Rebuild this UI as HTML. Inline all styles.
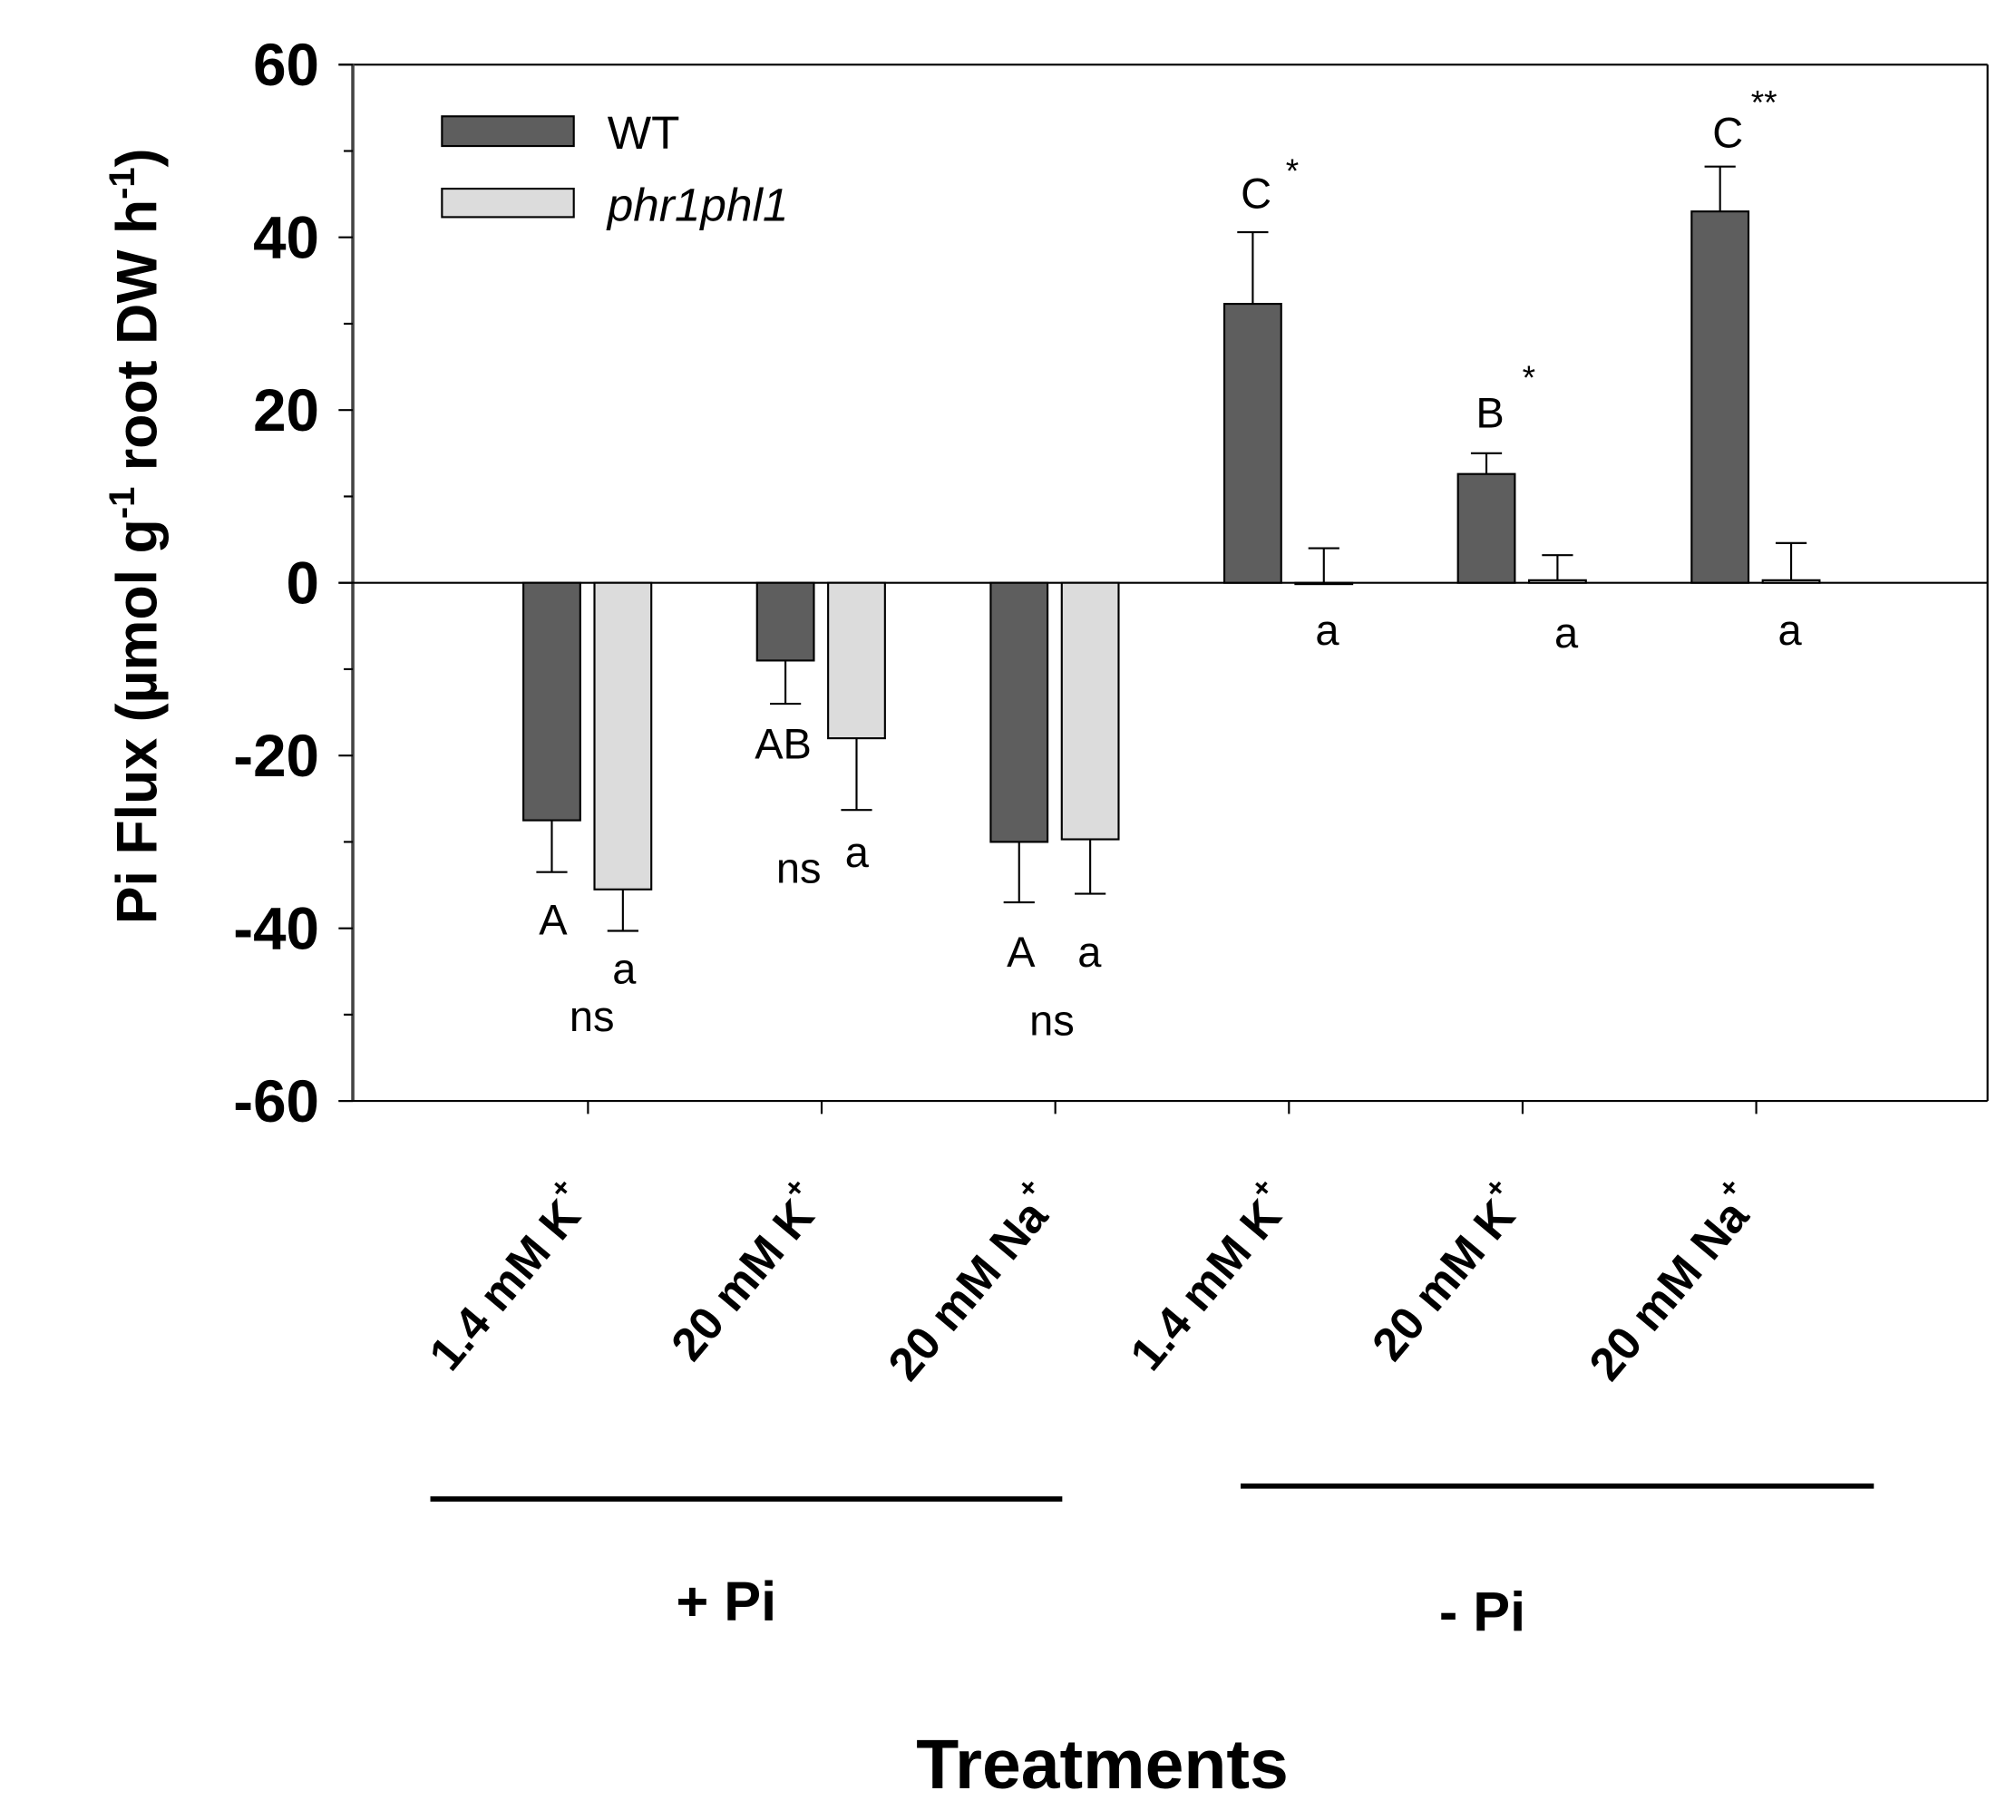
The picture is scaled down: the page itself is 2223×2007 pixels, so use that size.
<!DOCTYPE html>
<html><head><meta charset="utf-8"><style>
html,body{margin:0;padding:0;background:#fff;}
svg{display:block;font-family:"Liberation Sans",Arial,sans-serif;}
</style></head><body>
<svg id="chart" width="2223" height="2007" viewBox="0 0 1560 1408.4" xmlns="http://www.w3.org/2000/svg">
<g id="root"></g>
</svg>
<script>
const categories = ["1.4 mM K", "20 mM K", "20 mM Na", "1.4 mM K", "20 mM K", "20 mM Na"];
const wtValues = [-27.5, -9, -30, 32.3, 12.6, 43];
const wtErrors = [6, 5, 7, 8.3, 2.4, 5.2];
const mutValues = [-35.5, -18, -29.7, 0, 0.3, 0.3];
const mutErrors = [4.8, 8.3, 6.3, 4, 2.9, 4.3];
const yTicks = [-60, -40, -20, 0, 20, 40, 60];
const wtLetters = ["A", "AB", "A", "C", "B", "C"];
const mutLetters = ["a", "a", "a", "a", "a", "a"];
const sigMarks = ["ns", "ns", "ns", "*", "*", "**"];

const NS = "http://www.w3.org/2000/svg";
const root = document.getElementById('root');
const X0 = 273, X1 = 1538, Ytop = 50, Ybot = 852;
function y(v){ return 451 - v * (401/60); }
function xc(i){ return 455 + i * 180.8; }
function el(tag, attrs, parent, text){
  const e = document.createElementNS(NS, tag);
  for (const k in attrs) e.setAttribute(k, attrs[k]);
  if (text !== undefined) e.textContent = text;
  (parent || root).appendChild(e);
  return e;
}
let e;
e = el('line',{x1:262,y1:Ytop,x2:X1,y2:Ytop,stroke:'#000','stroke-width':1.5});
 
e = el('line',{x1:X1,y1:Ytop,x2:X1,y2:Ybot,stroke:'#000','stroke-width':1.5});
 
e = el('line',{x1:X0,y1:Ytop,x2:X0,y2:Ybot,stroke:'#444','stroke-width':2.5});
 
e = el('line',{x1:262,y1:Ybot,x2:X1,y2:Ybot,stroke:'#000','stroke-width':1.5});
 
e = el('line',{x1:262,y1:y(0),x2:X1,y2:y(0),stroke:'#000','stroke-width':1.5});
 
yTicks.forEach(v=>{
  e = el('line',{x1:262,y1:y(v),x2:X0,y2:y(v),stroke:'#000','stroke-width':1.5});
   
  e = el('text',{x:247,y:y(v)+16,'text-anchor':'end','font-size':46,'font-weight':'bold'},root,String(v));
   
  if (v < 60){
    e = el('line',{x1:266,y1:y(v+10),x2:X0,y2:y(v+10),stroke:'#000','stroke-width':1.5});
     
  }
});
e = el('text',{transform:'translate(121,415) rotate(-90)','text-anchor':'middle','font-size':44,'font-weight':'bold'});
 
e.innerHTML = 'Pi Flux (µmol g<tspan dy="-17" font-size="28">-1</tspan><tspan dy="17"> root DW h</tspan><tspan dy="-17" font-size="28">-1</tspan><tspan dy="17">)</tspan>';
const bw = 44;
function bar(i, v, err, isWT){
  const left = isWT ? xc(i) - 6 - bw : xc(i) + 5;
  const top = Math.min(y(v), y(0)), h = Math.abs(y(v) - y(0));
  const r = el('rect',{x:left,y:top,width:bw,height:Math.max(h,1),fill:isWT?'#5e5e5e':'#dcdcdc',stroke:'#000','stroke-width':1.5});
  
  
  const cx = left + bw/2;
  const ye = v >= 0 ? y(v + err) : y(v - err);
  const l1 = el('line',{x1:cx,y1:y(v),x2:cx,y2:ye,stroke:'#000','stroke-width':1.5});
   
  const l2 = el('line',{x1:cx-12,y1:ye,x2:cx+12,y2:ye,stroke:'#000','stroke-width':1.5});
   
}
categories.forEach((c,i)=>{
  bar(i, wtValues[i], wtErrors[i], true);
  bar(i, mutValues[i], mutErrors[i], false);
  e = el('line',{x1:xc(i),y1:Ybot,x2:xc(i),y2:Ybot+10,stroke:'#000','stroke-width':1.5});
   
  e = el('text',{transform:`translate(${xc(i)+4},${932}) rotate(-50)`,'text-anchor':'end','font-size':36,'font-weight':'bold'});
   
  e.innerHTML = c + '<tspan dy="-20" font-size="22">+</tspan>';
});
const ann = [
 ["A",428,723],["a",483,761],["ns",458,798],
 ["AB",606,587],["ns",618,683],["a",663,671],
 ["A",790,748],["a",843,748],["ns",814,801],
 ["C",972,161],["*",1000,141],["a",1027,499],
 ["B",1153,331],["*",1183,301],["a",1212,501],
 ["C",1337,114],["**",1365,88],["a",1385,499]
];
ann.forEach(a=>{
  const star = a[0].indexOf('*')===0;
  e = el('text',{x:a[1],y:a[2],'text-anchor':'middle','font-size':star?26:33},root,a[0]);
   
});
e = el('rect',{x:342,y:90,width:102,height:23,fill:'#5e5e5e',stroke:'#000','stroke-width':1.5});
 
e = el('text',{x:470,y:115,'font-size':36},root,'WT');
 
e = el('rect',{x:342,y:146,width:102,height:22,fill:'#dcdcdc',stroke:'#000','stroke-width':1.5});
 
e = el('text',{x:470,y:171,'font-size':36,'font-style':'italic'},root,'phr1phl1');
 
e = el('line',{x1:333,y1:1160,x2:822,y2:1160,stroke:'#000','stroke-width':4});
 
e = el('line',{x1:960,y1:1150,x2:1450,y2:1150,stroke:'#000','stroke-width':4});
 
e = el('text',{x:562,y:1254,'text-anchor':'middle','font-size':43,'font-weight':'bold'},root,'+ Pi');
 
e = el('text',{x:1147,y:1262,'text-anchor':'middle','font-size':43,'font-weight':'bold'},root,'- Pi');
 
e = el('text',{x:853,y:1384,'text-anchor':'middle','font-size':54,'font-weight':'bold'},root,'Treatments');
 
</script>
</body></html>
